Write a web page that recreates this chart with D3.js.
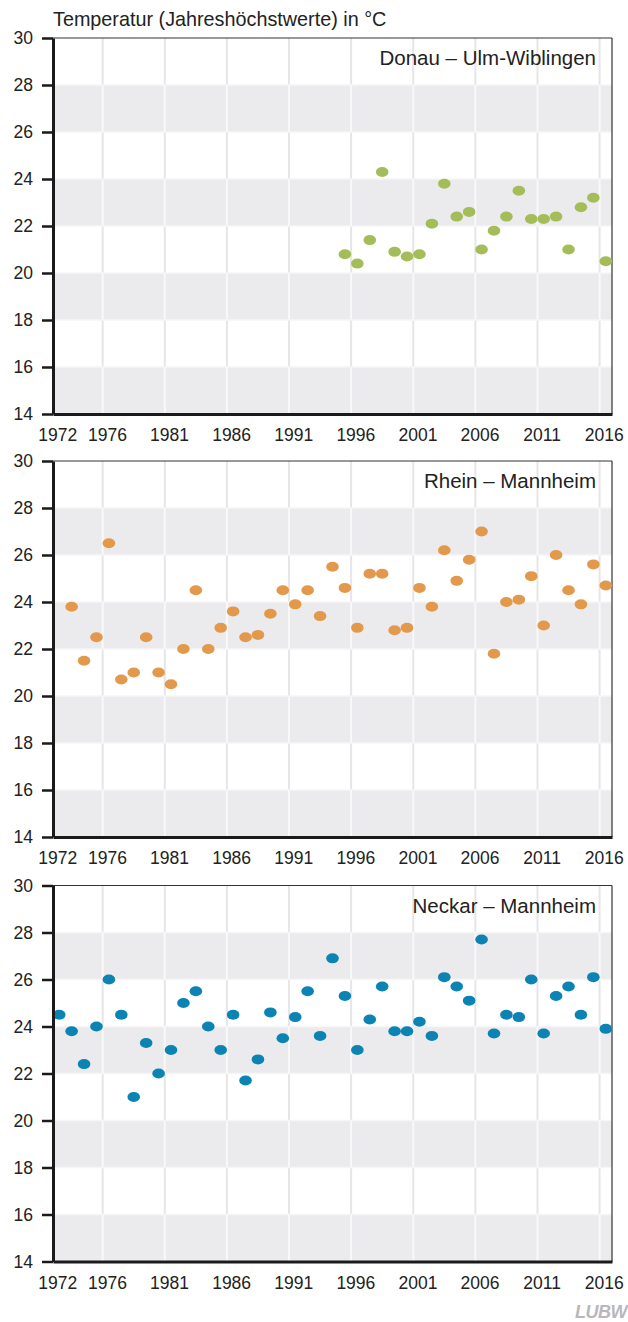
<!DOCTYPE html>
<html>
<head>
<meta charset="utf-8">
<script src="https://cdn.jsdelivr.net/npm/d3@7"></script>
<style>
  html, body { margin: 0; padding: 0; background: #fff; }
  svg { display: block; font-family: "Liberation Sans", Arial, sans-serif; }
</style>
</head>
<body>
<svg id="chart" width="628" height="1322"></svg>
<script>
// ---- data ----
const title = "Temperatur (Jahreshöchstwerte) in °C";
const tickYears = [1972, 1976, 1981, 1986, 1991, 1996, 2001, 2006, 2011, 2016];
const yTicks = [14, 16, 18, 20, 22, 24, 26, 28, 30];

const donauName = "Donau – Ulm-Wiblingen";
const donauYears = [1995,1996,1997,1998,1999,2000,2001,2002,2003,2004,2005,2006,2007,2008,2009,2010,2011,2012,2013,2014,2015,2016];
const donauValues = [20.8,20.4,21.4,24.3,20.9,20.7,20.8,22.1,23.8,22.4,22.6,21.0,21.8,22.4,23.5,22.3,22.3,22.4,21.0,22.8,23.2,20.5];

const rheinName = "Rhein – Mannheim";
const rheinYears = [1973,1974,1975,1976,1977,1978,1979,1980,1981,1982,1983,1984,1985,1986,1987,1988,1989,1990,1991,1992,1993,1994,1995,1996,1997,1998,1999,2000,2001,2002,2003,2004,2005,2006,2007,2008,2009,2010,2011,2012,2013,2014,2015,2016];
const rheinValues = [23.8,21.5,22.5,26.5,20.7,21.0,22.5,21.0,20.5,22.0,24.5,22.0,22.9,23.6,22.5,22.6,23.5,24.5,23.9,24.5,23.4,25.5,24.6,22.9,25.2,25.2,22.8,22.9,24.6,23.8,26.2,24.9,25.8,27.0,21.8,24.0,24.1,25.1,23.0,26.0,24.5,23.9,25.6,24.7];

const neckarName = "Neckar – Mannheim";
const neckarYears = [1972,1973,1974,1975,1976,1977,1978,1979,1980,1981,1982,1983,1984,1985,1986,1987,1988,1989,1990,1991,1992,1993,1994,1995,1996,1997,1998,1999,2000,2001,2002,2003,2004,2005,2006,2007,2008,2009,2010,2011,2012,2013,2014,2015,2016];
const neckarValues = [24.5,23.8,22.4,24.0,26.0,24.5,21.0,23.3,22.0,23.0,25.0,25.5,24.0,23.0,24.5,21.7,22.6,24.6,23.5,24.4,25.5,23.6,26.9,25.3,23.0,24.3,25.7,23.8,23.8,24.2,23.6,26.1,25.7,25.1,27.7,23.7,24.5,24.4,26.0,23.7,25.3,25.7,24.5,26.1,23.9];

const panels = [
  { name: donauName, years: donauYears, values: donauValues, color: "#a4bd58", top: 38 },
  { name: rheinName, years: rheinYears, values: rheinValues, color: "#e3994b", top: 461 },
  { name: neckarName, years: neckarYears, values: neckarValues, color: "#0b84b3", top: 885.5 }
];

// ---- layout ----
const left = 53, right = 612, plotH = 376;
const svg = d3.select("#chart");

const x = d3.scaleLinear().domain([1971.5, 2016.5]).range([left, right]);

svg.append("text")
  .attr("x", left).attr("y", 26)
  .attr("font-size", 19.8).attr("fill", "#222")
  .text(title);

panels.forEach(p => {
  const y = d3.scaleLinear().domain([14, 30]).range([p.top + plotH, p.top]);
  const g = svg.append("g");

  // bands
  for (let i = 0; i < yTicks.length - 1; i++) {
    const lo = yTicks[i], hi = yTicks[i + 1];
    const gray = (i % 2 === 0);
    if (gray) {
      g.append("rect")
        .attr("x", left).attr("y", y(hi))
        .attr("width", right - left).attr("height", y(lo) - y(hi))
        .attr("fill", "#ebebee");
    }
    // vertical grid segments
    tickYears.slice(1).forEach(t => {
      g.append("line")
        .attr("x1", x(t - 0.5)).attr("x2", x(t - 0.5))
        .attr("y1", y(hi)).attr("y2", y(lo))
        .attr("stroke", gray ? "#f8f8f9" : "#e6e6e8")
        .attr("stroke-width", 2);
    });
  }
  // horizontal grid lines (light)
  yTicks.slice(1, -1).forEach(v => {
    g.append("line")
      .attr("x1", left).attr("x2", right)
      .attr("y1", y(v)).attr("y2", y(v))
      .attr("stroke", "#f6f6f7").attr("stroke-width", 1.5);
  });

  // top & right border
  g.append("line").attr("x1", left).attr("x2", right).attr("y1", y(30)).attr("y2", y(30))
    .attr("stroke", "#333").attr("stroke-width", 1.2);
  g.append("line").attr("x1", right).attr("x2", right).attr("y1", y(30)).attr("y2", y(14))
    .attr("stroke", "#333").attr("stroke-width", 1.2);

  // dots
  g.selectAll("ellipse.dot")
    .data(p.years.map((yr, i) => ({ yr, v: p.values[i] })))
    .enter().append("ellipse")
    .attr("class", "dot")
    .attr("cx", d => x(d.yr))
    .attr("cy", d => y(d.v))
    .attr("rx", 6.3).attr("ry", 5)
    .attr("fill", p.color);

  // y axis
  const ya = g.append("g")
    .attr("transform", `translate(${left},0)`)
    .call(d3.axisLeft(y).tickValues(yTicks).tickSize(11).tickSizeOuter(0).tickPadding(9));
  ya.select(".domain").attr("stroke", "#1a1a1a").attr("stroke-width", 3);
  ya.selectAll(".tick line").attr("stroke", "#1a1a1a").attr("stroke-width", 2.5);
  ya.selectAll(".tick text").attr("font-size", 17.5).attr("fill", "#222")
    .attr("font-family", "Liberation Sans, Arial, sans-serif");

  // x axis
  const xa = g.append("g")
    .attr("transform", `translate(0,${p.top + plotH})`)
    .call(d3.axisBottom(x).tickValues(tickYears).tickFormat(d3.format("d")).tickSize(0).tickSizeOuter(0).tickPadding(15));
  xa.select(".domain").attr("stroke", "#1a1a1a").attr("stroke-width", 3);
  xa.selectAll(".tick text").attr("font-size", 17.5).attr("fill", "#222").attr("dx", -2)
    .attr("font-family", "Liberation Sans, Arial, sans-serif");

  // panel label
  g.append("text")
    .attr("x", 596).attr("y", p.top + 27)
    .attr("text-anchor", "end")
    .attr("font-size", 20.5).attr("fill", "#222")
    .text(p.name);
});

// logo
svg.append("text")
  .attr("x", 627).attr("y", 1318)
  .attr("text-anchor", "end")
  .attr("font-family", "Liberation Sans Narrow, Liberation Sans, Arial, sans-serif")
  .attr("font-weight", "bold").attr("font-style", "italic")
  .attr("font-size", 18).attr("fill", "#b8b8bc")
  .attr("letter-spacing", -0.5)
  .text("LUBW");
</script>
</body>
</html>
